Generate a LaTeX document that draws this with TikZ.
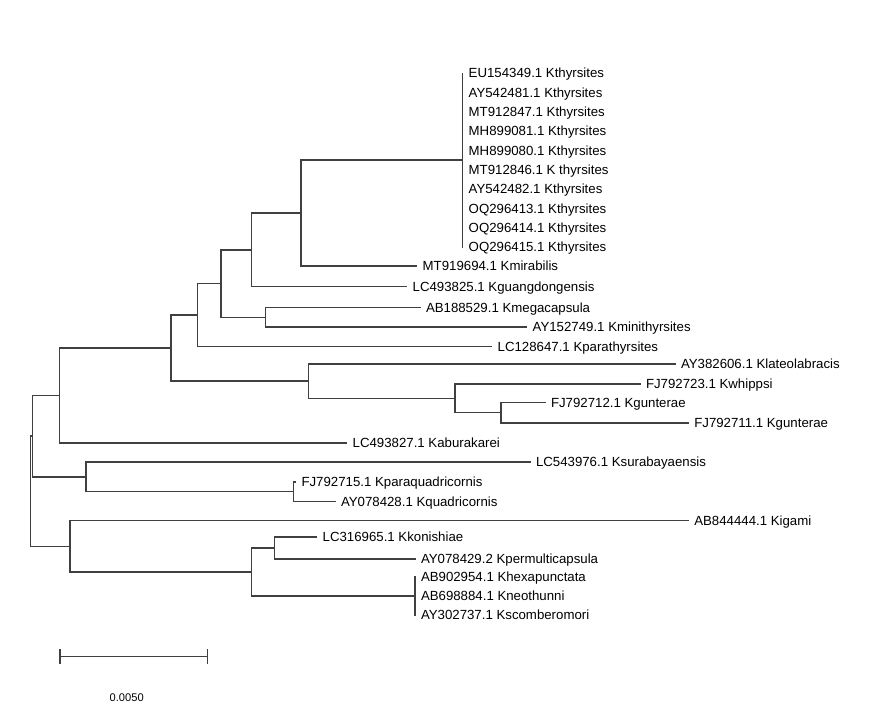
\documentclass[tikz,border=0pt]{standalone}
\usepackage{fontspec}
\setmainfont{Liberation Sans}
\usepackage{tikz}
\tikzset{branch/.style={draw=black!75, line width=1.3pt, line cap=rect},
 taxon/.style={anchor=west, inner sep=0pt, outer xsep=0.18cm, outer ysep=0pt,
   text height=8pt, text depth=0pt, font=\fontsize{11.3}{13}\selectfont},
 scalelabel/.style={inner sep=0pt, font=\fontsize{9.5}{11}\selectfont},
 }

\begin{document}
\begin{tikzpicture}[x=0.03cm, y=-0.03cm]
        \useasboundingbox (0,0) rectangle (872,718);
        \foreach \x[count=\i] in {EU154349.1 Kthyrsites, AY542481.1 Kthyrsites,
            MT912847.1 Kthyrsites, MH899081.1 Kthyrsites, MH899080.1 Kthyrsites,
            MT912846.1 K thyrsites, AY542482.1 Kthyrsites, OQ296413.1 Kthyrsites,
            OQ296414.1 Kthyrsites, OQ296415.1 Kthyrsites} {
            \node[taxon] (t\i) at (462.7, 73.3+19.3*\i-19.3) {\x};
        }
        \node[taxon] (t11) at (416.7, 266) {MT919694.1 Kmirabilis};
        \node[taxon] (t12) at (406.7, 286.7) {LC493825.1 Kguangdongensis};
        \node[taxon] (t13) at (420, 307.7) {AB188529.1 Kmegacapsula};
        \node[taxon] (t14) at (526.7, 327) {AY152749.1 Kminithyrsites};
        \node[taxon] (t15) at (491.7, 346.7) {LC128647.1 Kparathyrsites};
        \node[taxon] (t16) at (675, 364) {AY382606.1 Klateolabracis};
        \node[taxon] (t17) at (640, 384) {FJ792723.1 Kwhippsi};
        \node[taxon] (t18) at (545, 402.5) {FJ792712.1 Kgunterae};
        \node[taxon] (t19) at (688.3, 423) {FJ792711.1 Kgunterae};
        \node[taxon] (t20) at (346.7, 443) {LC493827.1 Kaburakarei};
        \node[taxon] (t21) at (530, 462) {LC543976.1 Ksurabayaensis};
        \node[taxon] (t22) at (295.5, 482) {FJ792715.1 Kparaquadricornis};
        \node[taxon] (t23) at (335, 501.5) {AY078428.1 Kquadricornis};
        \node[taxon] (t24) at (688.3, 520.5) {AB844444.1 Kigami};
        \node[taxon] (t25) at (316.7, 537) {LC316965.1 Kkonishiae};
        \node[taxon] (t26) at (415, 559) {AY078429.2 Kpermulticapsula};
        \node[taxon] (t27) at (415, 577) {AB902954.1 Khexapunctata};
        \node[taxon] (t28) at (415, 596) {AB698884.1 Kneothunni};
        \node[taxon] (t29) at (415, 615) {AY302737.1 Kscomberomori};

        \coordinate (nQ) at (462.7, 160.2);
        \coordinate (nP) at (301, 213);
        \coordinate (nA) at (251.7, 250);
        \coordinate (nM) at (265.5, 317.3);
        \coordinate (nB) at (221, 283.7);
        \coordinate (nC) at (197.5, 315.2);
        \coordinate (nW) at (501, 412.7);
        \coordinate (nV) at (455, 398.3);
        \coordinate (nD) at (308.3, 381);
        \coordinate (nE) at (171, 348.1);
        \coordinate (nF) at (59.3, 395.5);
        \coordinate (nI) at (293.3, 491.7);
        \coordinate (nH) at (86, 476.9);
        \coordinate (nG) at (32.7, 436.2);
        \coordinate (nL) at (274.3, 548);
        \coordinate (nK) at (251.7, 572);
        \coordinate (nJ) at (70, 546.3);
        \coordinate (root) at (30.3, 491.2);

        \draw[branch] (t1.west) -- (t10.west);
        \draw[branch] (nQ) -| (nP) |- (t11.west);
        \draw[branch] (nP) -| (nA) |- (t12.west);
        \draw[branch] (t13.west) -| (nM) |- (t14.west);
        \draw[branch] (nA) -| (nB) |- (nM);
        \draw[branch] (nB) -| (nC) |- (t15.west);
        \draw[branch] (t18.west) -| (nW) |- (t19.west);
        \draw[branch] (t17.west) -| (nV) |- (nW);
        \draw[branch] (t16.west) -| (nD) |- (nV);
        \draw[branch] (nC) -| (nE) |- (nD);
        \draw[branch] (nE) -| (nF) |- (t20.west);
        \draw[branch] (t22.west) -| (nI) |- (t23.west);
        \draw[branch] (t21.west) -| (nH) |- (nI);
        \draw[branch] (nF) -| (nG) |- (nH);
        \draw[branch] (t25.west) -| (nL) |- (t26.west);
        \draw[branch] (t27.west) -- (t29.west);
        \draw[branch] (nL) -| (nK) |- (t28.west);
        \draw[branch] (t24.west) -| (nJ) |- (nK);
        \draw[branch] (nG) -| (root) |- (nJ);

        \coordinate (sb0) at (60, 656.7);
        \coordinate (sb1) at (207.7, 656.7);
        \draw[branch] (sb0) -- (sb1);
        \draw[branch] (60, 650) -- (60, 663.5) (207.7, 650) -- (207.7, 663.5);
        \node[scalelabel] (sblabel) at (126.7, 697.7) {0.0050};
    \end{tikzpicture}
\end{document}
